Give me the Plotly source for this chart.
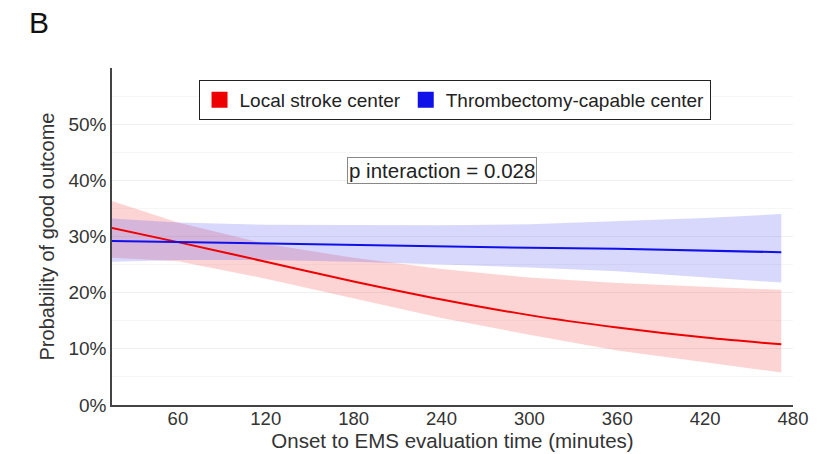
import plotly.graph_objects as go

# Onset-to-EMS time (minutes)
time_min = [15, 60, 120, 180, 240, 300, 360, 420, 472]

# Local stroke center
local_est = [0.315, 0.290, 0.255, 0.220, 0.188, 0.160, 0.138, 0.120, 0.108]
local_hi = [0.363, 0.325, 0.287, 0.262, 0.242, 0.227, 0.217, 0.210, 0.205]
local_lo = [0.262, 0.256, 0.225, 0.190, 0.155, 0.125, 0.097, 0.076, 0.058]

# Thrombectomy-capable center
thromb_est = [0.292, 0.290, 0.288, 0.285, 0.283, 0.280, 0.278, 0.275, 0.272]
thromb_hi = [0.332, 0.325, 0.321, 0.320, 0.320, 0.322, 0.327, 0.333, 0.340]
thromb_lo = [0.255, 0.258, 0.258, 0.255, 0.250, 0.245, 0.238, 0.228, 0.218]

y_ticks = [0, 0.1, 0.2, 0.3, 0.4, 0.5]
x_ticks = [60, 120, 180, 240, 300, 360, 420, 480]

RED = "#ee0000"
BLUE = "#1010e8"
FONT = "Liberation Sans, Arial, sans-serif"

fig = go.Figure()

def band(x, lo, hi, fill):
    fig.add_trace(go.Scatter(x=x, y=lo, mode="lines", line=dict(width=0),
                             showlegend=False, hoverinfo="skip"))
    fig.add_trace(go.Scatter(x=x, y=hi, mode="lines", line=dict(width=0),
                             fill="tonexty", fillcolor=fill,
                             showlegend=False, hoverinfo="skip"))

band(time_min, local_lo, local_hi, "rgba(245,60,60,0.22)")
band(time_min, thromb_lo, thromb_hi, "rgba(60,60,245,0.20)")

fig.add_trace(go.Scatter(x=time_min, y=local_est, mode="lines",
                         line=dict(color=RED, width=2, shape="spline"),
                         showlegend=False))
fig.add_trace(go.Scatter(x=time_min, y=thromb_est, mode="lines",
                         line=dict(color=BLUE, width=2),
                         showlegend=False))

# legend entries
fig.add_trace(go.Scatter(x=[None], y=[None], mode="markers",
                         marker=dict(symbol="square", size=16, color=RED),
                         name="Local stroke center"))
fig.add_trace(go.Scatter(x=[None], y=[None], mode="markers",
                         marker=dict(symbol="square", size=16, color=BLUE),
                         name="Thrombectomy-capable center"))

fig.add_annotation(x=240, y=0.418, xref="x", yref="y",
                   text="p interaction = 0.028", showarrow=False,
                   font=dict(size=20.5, color="#222222", family=FONT),
                   bgcolor="white", bordercolor="#888888", borderwidth=1,
                   borderpad=1)

fig.add_annotation(xref="paper", yref="paper", x=-0.125, y=1.134,
                   xanchor="left", yanchor="middle", text="B", showarrow=False,
                   font=dict(size=30, color="#111111", family=FONT))

fig.update_layout(
    width=821, height=454,
    margin=dict(l=112, r=28, t=68, b=49),
    paper_bgcolor="white", plot_bgcolor="white",
    font=dict(family=FONT, size=19, color="#333333"),
    legend=dict(orientation="h", x=0.503, xanchor="center", y=0.905, yanchor="middle",
                bordercolor="#222222", borderwidth=1, bgcolor="white",
                font=dict(size=19, color="#222222", family=FONT),
                itemwidth=30, traceorder="normal"),
    xaxis=dict(range=[15, 480], tickvals=x_ticks, showgrid=False, zeroline=False,
               showline=True, linecolor="#444444", linewidth=1.5, ticks="", ticklen=0,
               automargin=False, ticklabelstandoff=-4,
               tickfont=dict(size=18.5, color="#333333"),
               title=dict(text="Onset to EMS evaluation time (minutes)",
                          font=dict(size=20.5, color="#333333"), standoff=2)),
    yaxis=dict(range=[0, 0.6], tickvals=y_ticks, tickformat=".0%",
               showgrid=True, gridcolor="#f0f0f0", gridwidth=1,
               minor=dict(dtick=0.05, showgrid=True, gridcolor="#f6f6f6"),
               zeroline=False, showline=True, linecolor="#444444", linewidth=1.5,
               ticks="", ticklen=0, automargin=False,
               tickfont=dict(size=19, color="#333333"),
               title=dict(text="Probability of good outcome",
                          font=dict(size=20, color="#333333"), standoff=8)),
)

fig.write_html("out.html")
